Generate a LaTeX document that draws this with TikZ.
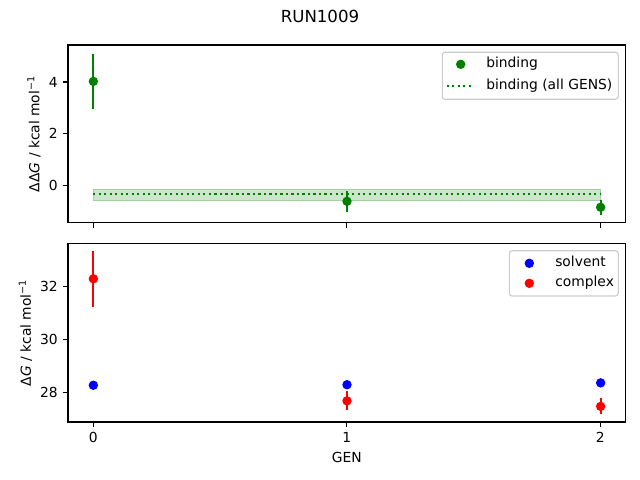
\documentclass[tikz,border=0pt]{standalone}
\usepackage{fontspec}
\setmainfont{DejaVu Sans}
\usetikzlibrary{positioning}

\definecolor{mplgreen}{HTML}{008000}
\definecolor{mplblue}{HTML}{0000FF}
\definecolor{mplred}{HTML}{FF0000}
\definecolor{legframe}{HTML}{CCCCCC}

\begin{document}
\begin{tikzpicture}
	[
	x=0.01in, y=-0.01in,
	font=\fontsize{10}{12}\selectfont,
	axframe/.style={draw=black, line width=0.8pt},
	tickmark/.style={draw=black, line width=0.8pt},
	ticklabel/.style={inner sep=0pt},
	dot/.style={circle, fill=#1, inner sep=0pt, minimum size=6.8pt},
	errbar/.style={draw=#1, line width=1.5pt},
	legendbox/.style={draw=legframe, fill=white, fill opacity=0.8, rounded corners=2pt, line width=0.8pt},
	legtext/.style={anchor=west, inner sep=0pt, text height=7.3pt, text depth=2.2pt},
	]
		\useasboundingbox (0,0) rectangle (640,480);

		% title
		\node[font=\fontsize{12}{14}\selectfont] (title) at ( 320.0,  16.0 ) {RUN1009};

		% top axes: binding
		\begin{scope}[shift={(93.35,185.3)}, x=2.535in, y=0.2583in]
			\fill[mplgreen, fill opacity=0.2, draw=mplgreen, draw opacity=0.2, line width=1pt]
				(0,-0.60) rectangle (2,-0.155);
			\draw[mplgreen, line width=1.5pt, dash pattern=on 1.5pt off 2.475pt]
				(0,-0.337) -- (2,-0.337);
			\foreach \g/\v/\e in {0/4.02/1.05, 1/-0.62/0.40, 2/-0.85/0.30} {
				\draw[errbar=mplgreen] (\g,\v-\e) -- (\g,\v+\e);
				\node[dot=mplgreen] (bind\g) at (\g,\v) {};
			}
		\end{scope}
		\draw[axframe] (68,45) rectangle (625.6,222.7);
		\foreach \g in {0,1,2} \draw[tickmark] ({93.35+253.5*\g},222.7) -- ++(0,4.86);
		\foreach \v in {0,2,4}
			\draw[tickmark] (68,{185.3-25.83*\v}) -- ++(-4.86,0)
				node[ticklabel, anchor=east, xshift=-3.5pt] (yta\v) {\v};
		\node[rotate=90] (ylabtop) at ( 34.0, 133.9 ) {ΔΔ\textit{G} / kcal mol\textsuperscript{−1}};

		% top legend
		\draw[legendbox] (442.3,52.3) rectangle (618.3,99.3);
		\node[dot=mplgreen] (legbind) at ( 460.7,  64.3 ) {};
		\coordinate (legall1) at ( 446.7,  86.0 );
		\coordinate (legall2) at ( 470.7,  86.0 );
		\draw[mplgreen, line width=1.5pt, dash pattern=on 1.5pt off 2.475pt] (legall1) -- (legall2);
		\node[legtext] (legbindtxt) at ( 486.0,  64.3 ) {binding};
		\node[legtext] (legalltxt)  at ( 486.0,  86.0 ) {binding (all GENS)};

		% bottom axes: solvent and complex
		\begin{scope}[shift={(93.35,392.3+28*26.4)}, x=2.535in, y=0.264in]
			\foreach \g/\v in {0/28.25, 1/28.27, 2/28.34}
				\node[dot=mplblue] (solv\g) at (\g,\v) {};
			\foreach \g/\v/\e in {0/32.28/1.05, 1/27.66/0.36, 2/27.45/0.30} {
				\draw[errbar=mplred] (\g,\v-\e) -- (\g,\v+\e);
				\node[dot=mplred] (cplx\g) at (\g,\v) {};
			}
		\end{scope}
		\draw[axframe] (68,243.3) rectangle (625.6,422);
		\foreach \g in {0,1,2}
			\draw[tickmark] ({93.35+253.5*\g},422) -- ++(0,4.86)
				node[ticklabel, anchor=north, yshift=-3.5pt] (xt\g) {\g};
		\foreach \v in {28,30,32}
			\draw[tickmark] (68,{392.3-26.4*(\v-28)}) -- ++(-4.86,0)
				node[ticklabel, anchor=east, xshift=-3.5pt] (ytb\v) {\v};
		\node[rotate=90] (ylabbot) at ( 25.5, 332.7 ) {Δ\textit{G} / kcal mol\textsuperscript{−1}};
		\node (xlab) at ( 346.8, 457.3 ) {GEN};

		% bottom legend
		\draw[legendbox] (509.3,250.7) rectangle (618.3,296.0);
		\node[dot=mplblue] (legsolv) at ( 529.3, 263.3 ) {};
		\node[dot=mplred]  (legcplx) at ( 529.3, 283.3 ) {};
		\node[legtext] (legsolvtxt) at ( 555.0, 263.3 ) {solvent};
		\node[legtext] (legcplxtxt) at ( 555.0, 283.3 ) {complex};

	\end{tikzpicture}
\end{document}
